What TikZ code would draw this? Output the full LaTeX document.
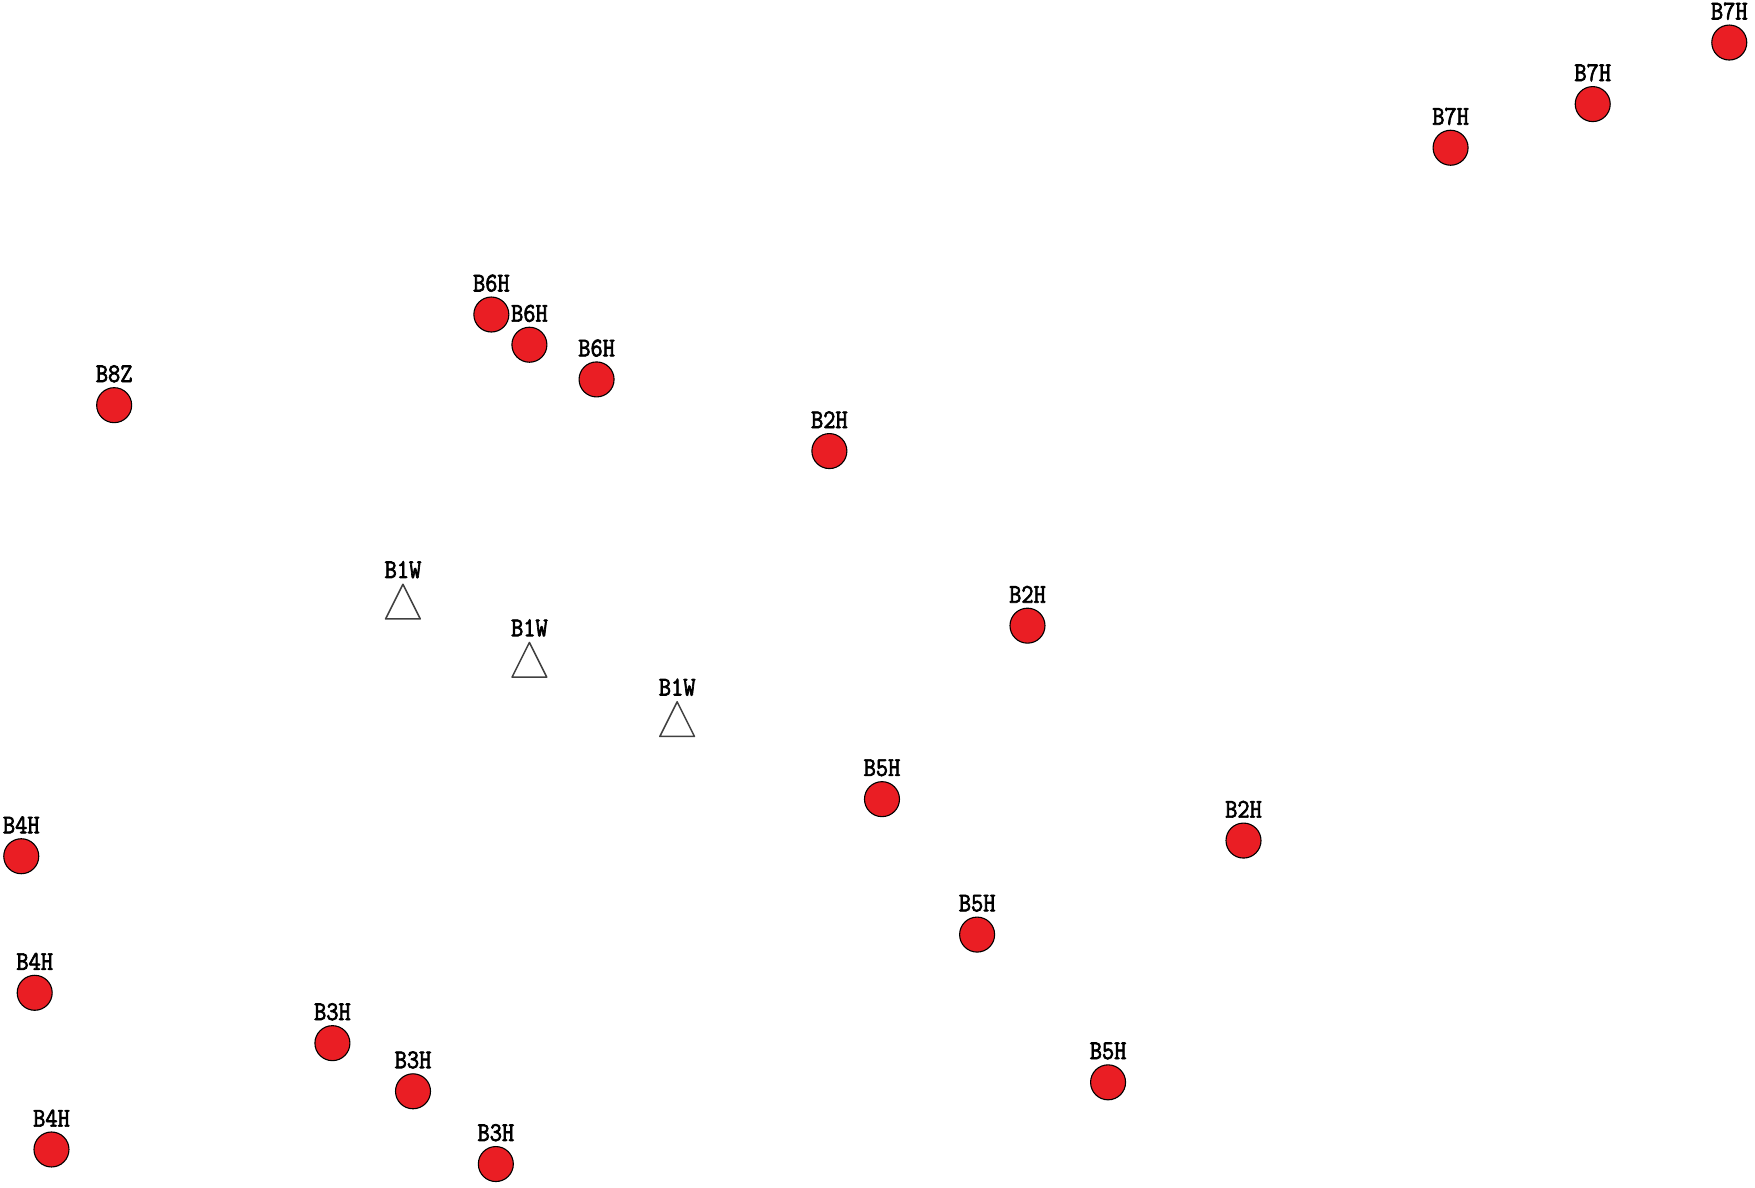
\documentclass[tikz,border=0pt]{standalone}
\usepackage{fontspec}
\newfontfamily\lblfont[FakeBold=2.5,FakeStretch=0.88]{Latin Modern Mono}
\definecolor{dotred}{RGB}{234,30,36}
\begin{document}
\begin{tikzpicture}[x=1.1193pt,y=-1.1193pt,
  dot/.style={circle,draw=black,line width=1.1pt,fill=dotred,minimum size=35pt,inner sep=0pt},
  lbl/.style={font=\lblfont\fontsize{27}{27}\selectfont,inner sep=0pt,anchor=center},
  tri/.style={draw=black!75,line width=1.5pt,line join=round}]
\useasboundingbox (0,0) rectangle (1568,1061);
% red dots: name, label, x, y
\foreach \n/\t/\x/\y in {a/B7H/1545/38, b/B7H/1423/93, c/B7H/1296/132,
  d/B6H/439/281, e/B6H/473/308, f/B6H/533/339, g/B8Z/102/362, h/B2H/741/403,
  i/B2H/918/559, j/B5H/788/714, k/B2H/1111/751, l/B4H/19/765, m/B5H/873/835,
  n/B4H/31/887, o/B3H/297/932, p/B3H/369/975, q/B5H/990/967, r/B4H/46/1027,
  s/B3H/443/1040}{
  \node[dot] (\n) at (\x,\y) {};
  \node[lbl] (\n l) at (\x,\y-28) {\t};
}
% triangles
\foreach \n/\x/\y in {t1/360/538, t2/473/590, t3/605/643}{
  \coordinate (\n) at (\x,\y);
  \draw[tri] (\x,\y-16) -- (\x+15.5,\y+15) -- (\x-15.5,\y+15) -- cycle;
  \node[lbl] (\n l) at (\x,\y-29) {B1W};
}
\end{tikzpicture}
\end{document}
